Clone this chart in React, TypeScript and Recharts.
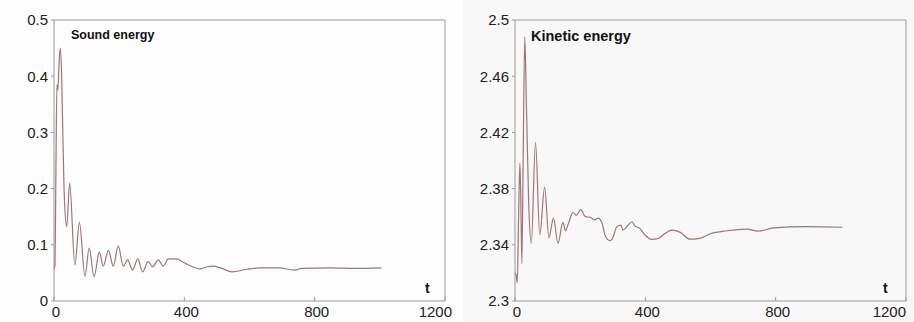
import { Line, LineChart, ReferenceArea, XAxis, YAxis } from "recharts";

// time axis
const xTicks = [0, 400, 800, 1200];

// sound energy, read at peaks and troughs
const soundTime = [
  0, 3, 6, 9, 12, 15, 19, 23, 27, 32, 39, 48, 64, 78, 95, 108, 123, 139, 151,
  167, 182, 197, 213, 226, 241, 257, 272, 289, 303, 320, 335, 351, 376, 400,
  425, 448, 470, 488, 515, 546, 590, 632, 690, 739, 760, 850, 920, 1005,
];
const soundValues = [
  0.058, 0.062, 0.24, 0.385, 0.375, 0.415, 0.45, 0.41, 0.3, 0.18, 0.132, 0.21,
  0.064, 0.14, 0.044, 0.094, 0.043, 0.087, 0.062, 0.09, 0.062, 0.098, 0.062,
  0.073, 0.055, 0.075, 0.052, 0.07, 0.061, 0.073, 0.062, 0.075, 0.075, 0.068,
  0.061, 0.057, 0.061, 0.062, 0.058, 0.052, 0.056, 0.059, 0.059, 0.055, 0.058,
  0.059, 0.058, 0.059,
];
const soundTicks = [0, 0.1, 0.2, 0.3, 0.4, 0.5];

// kinetic energy
const kineticTime = [
  0, 4, 7, 11, 15, 18, 21, 25, 30, 35, 42, 50, 63, 76, 91, 104, 118, 132, 147,
  155, 165, 178, 188, 202, 216, 230, 245, 255, 267, 276, 291, 298, 313, 325,
  331, 344, 359, 368, 383, 399, 420, 439, 460, 481, 506, 537, 567, 598, 650,
  711, 747, 793, 896, 1005,
];
const kineticValues = [
  2.32, 2.318, 2.313, 2.36, 2.398, 2.37, 2.327, 2.4, 2.488, 2.44, 2.37, 2.341,
  2.413, 2.347, 2.381, 2.345, 2.359, 2.341, 2.356, 2.35, 2.356, 2.363, 2.361,
  2.365, 2.36, 2.3596, 2.3577, 2.359, 2.3555, 2.347, 2.343, 2.344, 2.353,
  2.354, 2.3505, 2.353, 2.3564, 2.3534, 2.3517, 2.347, 2.3439, 2.3445, 2.348,
  2.3505, 2.349, 2.344, 2.3446, 2.3477, 2.35, 2.3512, 2.3498, 2.352, 2.3529,
  2.3525,
];
const kineticTicks = [2.3, 2.34, 2.38, 2.42, 2.46, 2.5];

const soundData = soundTime.map((t, i) => ({ t, v: soundValues[i] }));
const kineticData = kineticTime.map((t, i) => ({ t, v: kineticValues[i] }));

const textColor = "#222";
const boxColor = "#9a9a9a";
const lineColor = "#a27474";

function XTick(props: any) {
  const { x, y, payload } = props;
  const last = payload.value === 1200;
  return (
    <text
      x={last ? x + 8 : x + 2}
      y={y}
      dy={10}
      textAnchor={last ? "end" : "middle"}
      fill={textColor}
      fontSize={15}
    >
      {payload.value}
    </text>
  );
}

function Panel({
  data,
  ticks,
  domain,
  width,
  yWidth,
  right,
}: {
  data: { t: number; v: number }[];
  ticks: number[];
  domain: [number, number];
  width: number;
  yWidth: number;
  right: number;
}) {
  return (
    <LineChart
      width={width}
      height={322}
      data={data}
      margin={{ top: 20, right, left: 0, bottom: 0 }}
    >
      <XAxis
        dataKey="t"
        type="number"
        domain={[0, 1200]}
        ticks={xTicks}
        height={21}
        tickSize={-4}
        tickMargin={10}
        tick={<XTick />}
        axisLine={false}
        tickLine={{ stroke: boxColor }}
        allowDataOverflow
      />
      <YAxis
        type="number"
        domain={domain}
        ticks={ticks}
        width={yWidth}
        tickSize={3}
        tickMargin={3}
        tick={{ fontSize: 15, fill: textColor }}
        axisLine={false}
        tickLine={{ stroke: boxColor }}
        allowDataOverflow
      />
      <ReferenceArea
        x1={0}
        x2={1200}
        y1={domain[0]}
        y2={domain[1]}
        fill="none"
        stroke={boxColor}
        strokeWidth={1}
        ifOverflow="visible"
      />
      <Line
        type="monotone"
        dataKey="v"
        stroke={lineColor}
        strokeWidth={1.2}
        dot={false}
        isAnimationActive={false}
      />
    </LineChart>
  );
}

export default function App() {
  return (
    <div
      style={{
        position: "absolute",
        left: 0,
        top: 0,
        width: 914,
        height: 322,
        background: "#fdfdfd",
        fontFamily: "'Liberation Sans', Arial, sans-serif",
        overflow: "hidden",
      }}
    >
      <div
        style={{
          position: "absolute",
          left: 463,
          top: 0,
          width: 451,
          height: 322,
          background: "#f8f8f8",
        }}
      />
      <div style={{ position: "absolute", left: 0, top: 0 }}>
        <Panel
          data={soundData}
          ticks={soundTicks}
          domain={[0, 0.5]}
          width={460}
          yWidth={54}
          right={15}
        />
      </div>
      <div style={{ position: "absolute", left: 460, top: 0 }}>
        <Panel
          data={kineticData}
          ticks={kineticTicks}
          domain={[2.3, 2.5]}
          width={454}
          yWidth={55}
          right={8}
        />
      </div>
      <div
        style={{
          position: "absolute",
          left: 71,
          top: 29,
          fontSize: 12.5,
          lineHeight: 1,
          fontWeight: 700,
          color: "#111",
        }}
      >
        Sound energy
      </div>
      <div
        style={{
          position: "absolute",
          left: 531,
          top: 29,
          fontSize: 14.5,
          lineHeight: 1,
          fontWeight: 700,
          color: "#111",
        }}
      >
        Kinetic energy
      </div>
      <div
        style={{
          position: "absolute",
          left: 425,
          top: 281,
          fontSize: 14,
          lineHeight: 1,
          fontWeight: 700,
          color: "#111",
        }}
      >
        t
      </div>
      <div
        style={{
          position: "absolute",
          left: 883,
          top: 281,
          fontSize: 14,
          lineHeight: 1,
          fontWeight: 700,
          color: "#111",
        }}
      >
        t
      </div>
    </div>
  );
}
